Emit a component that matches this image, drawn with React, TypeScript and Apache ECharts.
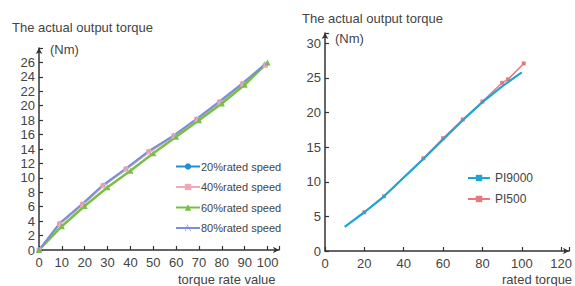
import React, { useEffect, useRef } from "react";
import * as echarts from "echarts";

const leftX = [0, 9, 19, 28, 38, 48, 59, 69, 79, 89, 99];
const leftX60 = [0, 10, 20, 30, 40, 50, 60, 70, 80, 90, 100];
const speed20 = [0, 3.6, 6.3, 8.9, 11.2, 13.6, 15.8, 18.1, 20.5, 23.0, 25.6];
const speed40 = [0, 3.6, 6.3, 8.9, 11.2, 13.6, 15.8, 18.1, 20.5, 23.0, 25.6];
const speed60 = [0, 3.3, 6.1, 8.7, 11.0, 13.4, 15.7, 18.0, 20.3, 22.9, 26.0];
const speed80 = [0, 3.7, 6.4, 9.0, 11.3, 13.7, 15.9, 18.2, 20.6, 23.1, 25.8];
const leftNames = ["20%rated speed", "40%rated speed", "60%rated speed", "80%rated speed"];

const pi9000X = [10, 20, 30, 50, 60, 70, 80, 90, 100];
const pi9000Y = [3.5, 5.6, 7.9, 13.3, 16.1, 18.9, 21.5, 23.8, 25.8];
const pi500X = [20, 30, 50, 60, 70, 80, 90, 93, 101];
const pi500Y = [5.6, 7.9, 13.4, 16.3, 19.0, 21.6, 24.3, 24.8, 27.1];

const zip = (xs: number[], ys: number[]) => xs.map((x, i) => [x, ys[i]]);

const txt = "#444";
const font = "Liberation Sans, Arial, sans-serif";

export default function App() {
  const ref = useRef<HTMLDivElement>(null);
  useEffect(() => {
    if (!ref.current) return;
    const chart = echarts.init(ref.current, null, { renderer: "svg" });
    const axisLine = { lineStyle: { color: "#333", width: 1.5 }, symbol: ["none", "arrow"], symbolSize: [5, 6] };
    const axisTick = { inside: true, length: 4, lineStyle: { color: "#333", width: 1.2 } };
    chart.setOption({
      animation: false,
      textStyle: { fontFamily: font },
      graphic: [
        { type: "text", left: 12, top: 21, style: { text: "The actual output torque", fontSize: 13, fill: txt, fontFamily: font } },
        { type: "text", left: 50, top: 43, style: { text: "(Nm)", fontSize: 13, fill: txt, fontFamily: font } },
        { type: "text", left: 302, top: 12, style: { text: "The actual output torque", fontSize: 13, fill: txt, fontFamily: font } },
        { type: "text", left: 335, top: 32, style: { text: "(Nm)", fontSize: 13, fill: txt, fontFamily: font } },
        { type: "text", left: 178, top: 273, style: { text: "torque rate value", fontSize: 13, fill: txt, fontFamily: font } },
        { type: "text", left: 502, top: 273, style: { text: "rated torque", fontSize: 13, fill: txt, fontFamily: font } },
      ],
      grid: [
        { left: 39, top: 48, width: 240, height: 202 },
        { left: 325, top: 33, width: 248, height: 218 },
      ],
      xAxis: [
        {
          gridIndex: 0, type: "value", min: 0, max: 105, interval: 10,
          axisLine, axisTick, splitLine: { show: false },
          axisLabel: { color: txt, fontSize: 13, margin: 6, formatter: (v: number) => (v > 100 ? "" : String(v)) },
        },
        {
          gridIndex: 1, type: "value", min: 0, max: 124, interval: 20,
          axisLine, axisTick, splitLine: { show: false },
          axisLabel: { color: txt, fontSize: 13, margin: 6, formatter: (v: number) => (v > 120 ? "" : String(v)) },
        },
      ],
      yAxis: [
        {
          gridIndex: 0, type: "value", min: 0, max: 28, interval: 2,
          axisLine, axisTick, splitLine: { show: false },
          axisLabel: { color: txt, fontSize: 13, margin: 4, formatter: (v: number) => (v > 26 ? "" : String(v)) },
        },
        {
          gridIndex: 1, type: "value", min: 0, max: 31.5, interval: 5,
          axisLine, axisTick, splitLine: { show: false },
          axisLabel: { color: txt, fontSize: 13, margin: 4, formatter: (v: number) => (v > 30 ? "" : String(v)) },
        },
      ],
      legend: [
        {
          data: leftNames, orient: "vertical", left: 170, top: 156, itemWidth: 24, itemHeight: 8, itemGap: 9.5,
          textStyle: { color: txt, fontSize: 11, fontFamily: font, padding: [0, 0, 0, -4] },
        },
        {
          data: ["PI9000", "PI500"], orient: "vertical", left: 462, top: 167, itemWidth: 22, itemHeight: 8, itemGap: 9,
          textStyle: { color: txt, fontSize: 12, fontFamily: font },
        },
      ],
      series: [
        {
          name: leftNames[0], type: "line", xAxisIndex: 0, yAxisIndex: 0, data: zip(leftX, speed20),
          symbol: "circle", symbolSize: 4, color: "#1E8FD8", lineStyle: { width: 2 },
        },
        {
          name: leftNames[1], type: "line", xAxisIndex: 0, yAxisIndex: 0, data: zip(leftX, speed40),
          symbol: "rect", symbolSize: 5, color: "#F2A9B6", lineStyle: { width: 2 },
        },
        {
          name: leftNames[2], type: "line", xAxisIndex: 0, yAxisIndex: 0, data: zip(leftX60, speed60),
          symbol: "triangle", symbolSize: 6, color: "#76C043", lineStyle: { width: 2.5 },
        },
        {
          name: leftNames[3], type: "line", xAxisIndex: 0, yAxisIndex: 0, data: zip(leftX, speed80),
          symbol: "path://M0,10 L4,0 L5,0 L1,10 Z M4,0 L10,10 L9,10 L4,1 Z", symbolSize: 5, color: "#7B8ED6", lineStyle: { width: 2 },
        },
        {
          name: "PI9000", type: "line", xAxisIndex: 1, yAxisIndex: 1, data: zip(pi9000X, pi9000Y),
          symbol: "rect", symbolSize: 6, showSymbol: false, color: "#1FA5D3", lineStyle: { width: 2.2 }, z: 3,
        },
        {
          name: "PI500", type: "line", xAxisIndex: 1, yAxisIndex: 1, data: zip(pi500X, pi500Y),
          symbol: "rect", symbolSize: 4, color: "#E8787E", lineStyle: { width: 1.5 }, z: 2,
        },
      ],
    });
    return () => chart.dispose();
  }, []);
  return <div ref={ref} style={{ width: 575, height: 286, position: "absolute", left: 0, top: 0 }} />;
}
